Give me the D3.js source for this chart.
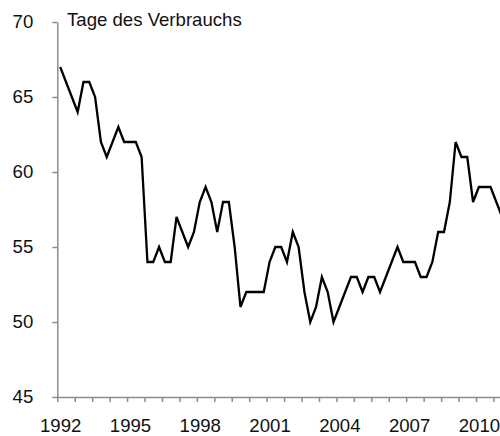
<!DOCTYPE html>
<html>
<head>
<meta charset="utf-8">
<script src="https://cdn.jsdelivr.net/npm/d3@7"></script>
<style>
  body { margin: 0; background: #fff; }
  svg { display: block; font-family: "Liberation Sans", Arial, sans-serif; }
</style>
</head>
<body>
<div id="chart"></div>
<script>
// Tage des Verbrauchs, Quartalswerte ab 1992 Q1
const values = [
  67, 66, 65, 64, 66, 66, 65, 62, 61, 62, 63, 62,
  62, 62, 61, 54, 54, 55, 54, 54, 57, 56, 55, 56,
  58, 59, 58, 56, 58, 58, 55, 51, 52, 52, 52, 52,
  54, 55, 55, 54, 56, 55, 52, 50, 51, 53, 52, 50,
  51, 52, 53, 53, 52, 53, 53, 52, 53, 54, 55, 54,
  54, 54, 53, 53, 54, 56, 56, 58, 62, 61, 61, 58,
  59, 59, 59, 58, 57
];
const yearLabels = ["1992", "1995", "1998", "2001", "2004", "2007", "2010"];
const yTicks = [45, 50, 55, 60, 65, 70];

const width = 500, height = 436;
const x0 = 57.3, step = 5.815;
const n = values.length;
const fontSize = "18.6px";

const svg = d3.select("#chart").append("svg")
  .attr("width", width)
  .attr("height", height);

// x über Kategorien (Quartale)
const x = d3.scaleLinear()
  .domain([0, n])
  .range([x0, x0 + n * step]);

const y = d3.scaleLinear()
  .domain([45, 70])
  .range([397, 22]);

// y-Achse
const yAxis = svg.append("g")
  .attr("transform", "translate(" + x0 + ",0)")
  .call(d3.axisLeft(y).tickValues(yTicks).tickSize(5).tickSizeOuter(0).tickPadding(19));
yAxis.select(".domain").attr("stroke", "#8c8c8c").attr("stroke-width", 1.5);
yAxis.selectAll(".tick line").attr("stroke", "#8c8c8c").attr("stroke-width", 1.5);
yAxis.selectAll("text")
  .style("font-size", fontSize)
  .attr("fill", "#111");

// x-Achse: Teilstriche alle 3 Quartale
const xAxis = svg.append("g")
  .attr("transform", "translate(0,397)")
  .call(d3.axisBottom(x).tickValues(d3.range(0, n + 1, 3)).tickFormat("").tickSize(5).tickSizeOuter(0));
xAxis.select(".domain").attr("stroke", "#8c8c8c").attr("stroke-width", 1.5);
xAxis.selectAll(".tick line").attr("stroke", "#8c8c8c").attr("stroke-width", 1.5);

// Jahresbeschriftung alle 12 Quartale
const labelAxis = svg.append("g")
  .attr("transform", "translate(0,397)")
  .call(d3.axisBottom(x)
    .tickValues(yearLabels.map((d, i) => i * 12 + 0.5))
    .tickFormat((d, i) => yearLabels[i])
    .tickSize(0)
    .tickPadding(22));
labelAxis.select(".domain").remove();
labelAxis.selectAll("text")
  .style("font-size", fontSize)
  .attr("fill", "#111");

svg.append("text")
  .attr("x", 67)
  .attr("y", 26)
  .style("font-size", fontSize)
  .attr("fill", "#111")
  .text("Tage des Verbrauchs");

const line = d3.line()
  .x((d, i) => x(i + 0.5))
  .y(d => y(d));

svg.append("path")
  .datum(values)
  .attr("fill", "none")
  .attr("stroke", "#000")
  .attr("stroke-width", 2.3)
  .attr("stroke-linejoin", "miter")
  .attr("d", line);
</script>
</body>
</html>
